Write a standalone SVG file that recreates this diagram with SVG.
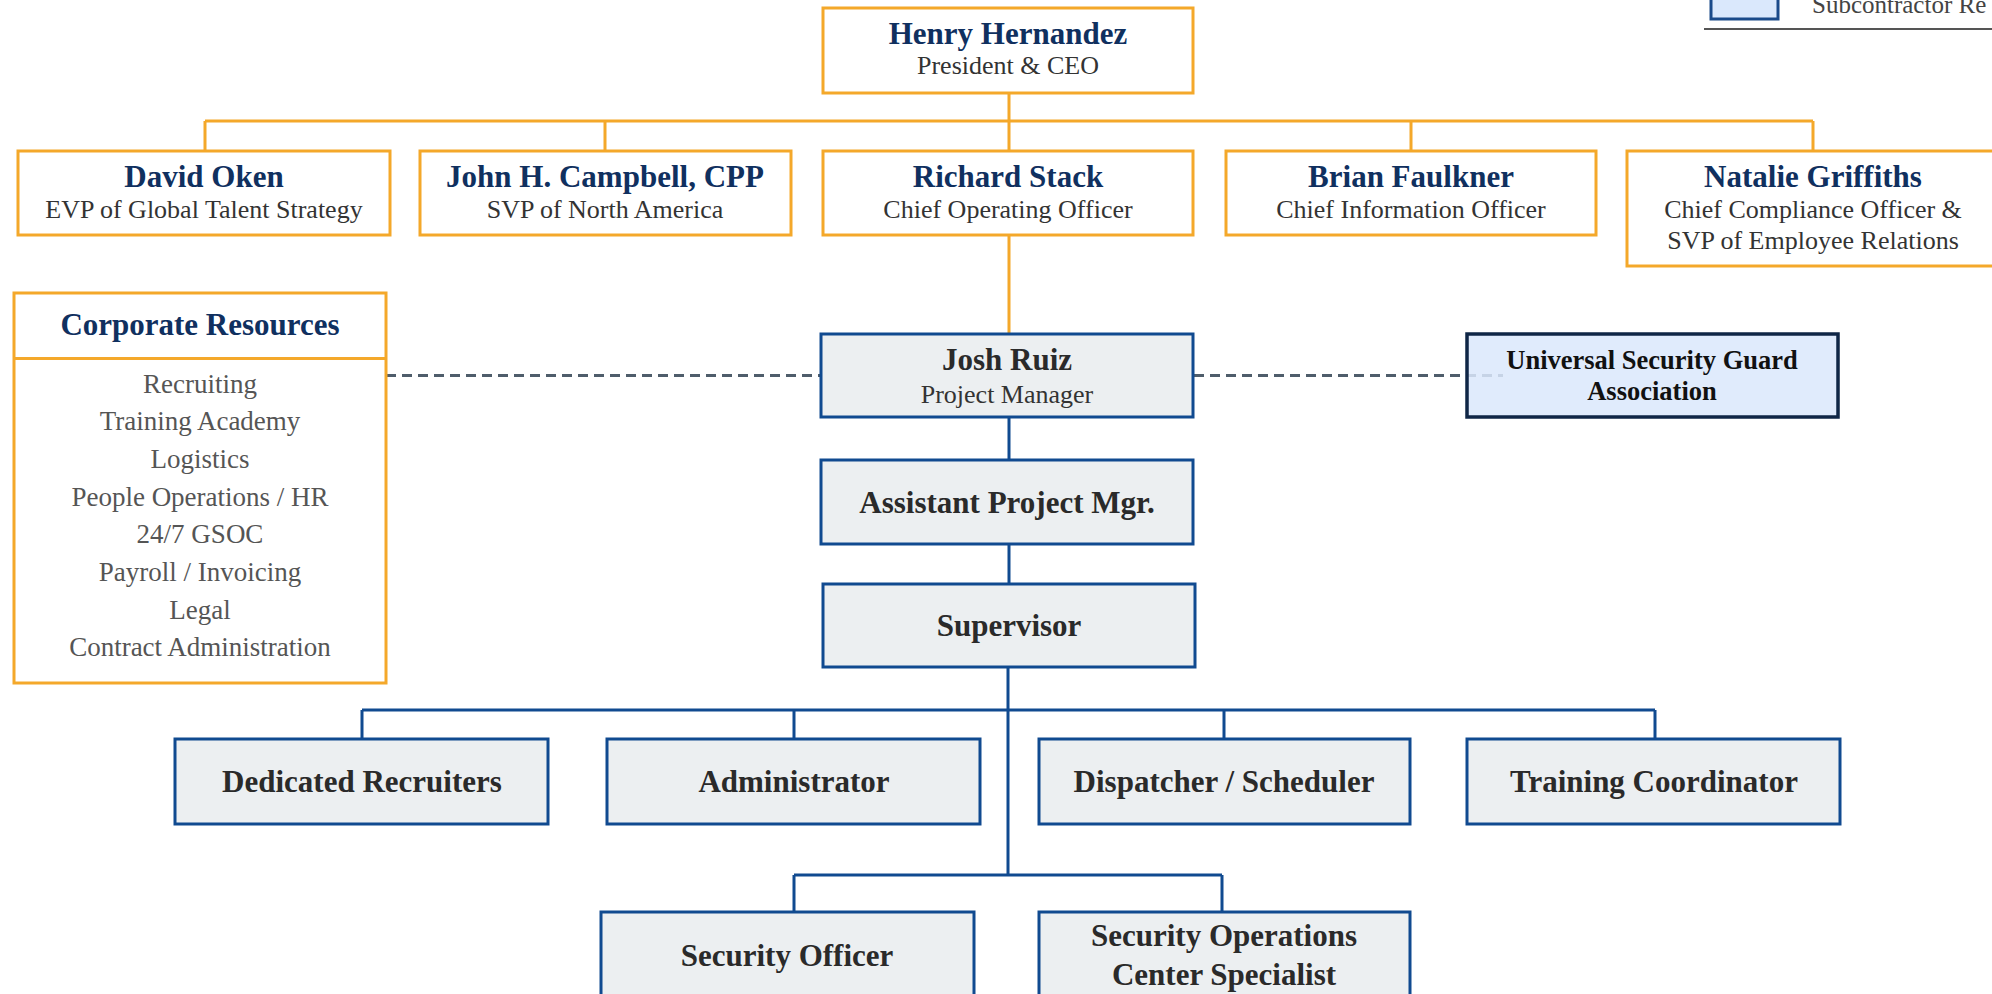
<svg xmlns="http://www.w3.org/2000/svg" width="1992" height="994" viewBox="0 0 1992 994">
<style>
text{font-family:"Liberation Serif","Times New Roman",serif;text-anchor:middle}
.ob{fill:#ffffff;stroke:#f4a82a;stroke-width:3}
.bb{fill:#eceff1;stroke:#104a90;stroke-width:3}
.sb{fill:#dae8fc;fill-opacity:0.85;stroke:#0f2646;stroke-width:3.5}
.nm{font-size:31px;font-weight:bold;fill:#10305f}
.tt{font-size:26px;fill:#333333}
.bt{font-size:31px;font-weight:bold;fill:#2a2a2a}
.st{font-size:26.5px;font-weight:bold;fill:#111111}
.li{font-size:27px;fill:#555555}
.oc{stroke:#f4a82a;stroke-width:3;fill:none}
.bc{stroke:#104a90;stroke-width:3;fill:none}
.dc{stroke:#4f5d6b;stroke-width:3;stroke-dasharray:10 6;fill:none}
</style>
<rect width="1992" height="994" fill="#ffffff"/>
<g id="connectors">
<path class="oc" d="M1009 93V121M205 121H1813M205 121V151M605 121V151M1009 121V151M1411 121V151M1813 121V151M1009 235V334"/>
<path class="bc" d="M1009 417V460M1009 544V584M1008 667V875M362 710H1655M362 710V739M794 710V739M1224 710V739M1655 710V739M794 875H1222M794 875V912M1222 875V912"/>
<path class="dc" d="M386 375.5H821M1194 375.5H1503"/>
</g>
<g id="legend">
<rect x="1711" y="-10" width="67" height="29" fill="#dae8fc" stroke="#1a4a8a" stroke-width="3"/>
<text x="1812" y="13" style="font-size:25px;fill:#444444;text-anchor:start">Subcontractor Re</text>
<line x1="1704" y1="29" x2="1992" y2="29" stroke="#555555" stroke-width="2"/>
</g>
<g id="henry-hernandez">
<rect class="ob" x="823" y="8" width="370" height="85"/>
<text class="nm" x="1008" y="44">Henry Hernandez</text>
<text class="tt" x="1008" y="74">President &amp; CEO</text>
</g>
<g id="david-oken">
<rect class="ob" x="18" y="151" width="372" height="84"/>
<text class="nm" x="204" y="187">David Oken</text>
<text class="tt" x="204" y="218">EVP of Global Talent Strategy</text>
</g>
<g id="john-campbell">
<rect class="ob" x="420" y="151" width="371" height="84"/>
<text class="nm" x="605" y="187">John H. Campbell, CPP</text>
<text class="tt" x="605" y="218">SVP of North America</text>
</g>
<g id="richard-stack">
<rect class="ob" x="823" y="151" width="370" height="84"/>
<text class="nm" x="1008" y="187">Richard Stack</text>
<text class="tt" x="1008" y="218">Chief Operating Officer</text>
</g>
<g id="brian-faulkner">
<rect class="ob" x="1226" y="151" width="370" height="84"/>
<text class="nm" x="1411" y="187">Brian Faulkner</text>
<text class="tt" x="1411" y="218">Chief Information Officer</text>
</g>
<g id="natalie-griffiths">
<rect class="ob" x="1627" y="151" width="372" height="115"/>
<text class="nm" x="1813" y="187">Natalie Griffiths</text>
<text class="tt" x="1813" y="218">Chief Compliance Officer &amp;</text>
<text class="tt" x="1813" y="249">SVP of Employee Relations</text>
</g>
<g id="corporate-resources">
<rect class="ob" x="14" y="293" width="372" height="390"/>
<line x1="14" y1="358.5" x2="386" y2="358.5" stroke="#f4a82a" stroke-width="3"/>
<text class="nm" x="200" y="335">Corporate Resources</text>
<text class="li" x="200" y="393">Recruiting</text>
<text class="li" x="200" y="430">Training Academy</text>
<text class="li" x="200" y="468">Logistics</text>
<text class="li" x="200" y="506">People Operations / HR</text>
<text class="li" x="200" y="543">24/7 GSOC</text>
<text class="li" x="200" y="581">Payroll / Invoicing</text>
<text class="li" x="200" y="619">Legal</text>
<text class="li" x="200" y="656">Contract Administration</text>
</g>
<g id="josh-ruiz">
<rect class="bb" x="821" y="334" width="372" height="83"/>
<text class="bt" x="1007" y="370">Josh Ruiz</text>
<text class="tt" x="1007" y="403">Project Manager</text>
</g>
<g id="usga">
<rect class="sb" x="1467" y="334" width="371" height="83"/>
<text class="st" x="1652" y="369">Universal Security Guard</text>
<text class="st" x="1652" y="400">Association</text>
</g>
<g id="assistant-pm">
<rect class="bb" x="821" y="460" width="372" height="84"/>
<text class="bt" x="1007" y="513">Assistant Project Mgr.</text>
</g>
<g id="supervisor">
<rect class="bb" x="823" y="584" width="372" height="83"/>
<text class="bt" x="1009" y="636">Supervisor</text>
</g>
<g id="dedicated-recruiters">
<rect class="bb" x="175" y="739" width="373" height="85"/>
<text class="bt" x="362" y="792">Dedicated Recruiters</text>
</g>
<g id="administrator">
<rect class="bb" x="607" y="739" width="373" height="85"/>
<text class="bt" x="794" y="792">Administrator</text>
</g>
<g id="dispatcher">
<rect class="bb" x="1039" y="739" width="371" height="85"/>
<text class="bt" x="1224" y="792">Dispatcher / Scheduler</text>
</g>
<g id="training-coordinator">
<rect class="bb" x="1467" y="739" width="373" height="85"/>
<text class="bt" x="1654" y="792">Training Coordinator</text>
</g>
<g id="security-officer">
<rect class="bb" x="601" y="912" width="373" height="100"/>
<text class="bt" x="787" y="966">Security Officer</text>
</g>
<g id="soc-specialist">
<rect class="bb" x="1039" y="912" width="371" height="100"/>
<text class="bt" x="1224" y="946">Security Operations</text>
<text class="bt" x="1224" y="985">Center Specialist</text>
</g>
</svg>
